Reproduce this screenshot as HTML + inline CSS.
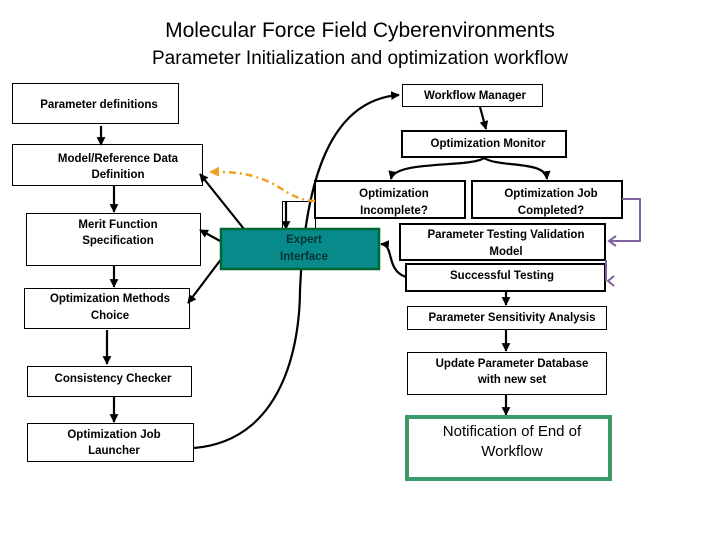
<!DOCTYPE html>
<html><head><meta charset="utf-8"><style>
html,body{margin:0;padding:0;background:#fff;}
body{width:720px;height:540px;position:relative;overflow:hidden;font-family:"Liberation Sans",sans-serif;}
</style></head><body>
<svg width="720" height="540" viewBox="0 0 720 540" xmlns="http://www.w3.org/2000/svg" style="position:absolute;left:0;top:0">
<defs>
<marker id="a" viewBox="0 0 10 10" refX="9" refY="5" markerWidth="4" markerHeight="4" orient="auto"><path d="M0,0L10,5L0,10z" fill="#000"/></marker>
<marker id="o" viewBox="0 0 10 10" refX="9" refY="5" markerWidth="4" markerHeight="4" orient="auto"><path d="M0,0L10,5L0,10z" fill="#f0a020"/></marker>
</defs>
<g font-family="Liberation Sans, sans-serif" text-anchor="middle" fill="#000">
<text x="360" y="37" font-size="21">Molecular Force Field Cyberenvironments</text>
<text x="360" y="64" font-size="19">Parameter Initialization and optimization workflow</text>
</g>
<g fill="#fff" stroke="#000" stroke-width="1">
<rect x="12.5" y="83.5" width="166" height="40"/>
<rect x="12.5" y="144.5" width="190" height="41"/>
<rect x="26.5" y="213.5" width="174" height="52"/>
<rect x="24.5" y="288.5" width="165" height="40"/>
<rect x="27.5" y="366.5" width="164" height="30"/>
<rect x="27.5" y="423.5" width="166" height="38"/>
<rect x="402.5" y="84.5" width="140" height="22"/>
<rect x="282.5" y="201.5" width="33" height="28"/>
<rect x="407.5" y="306.5" width="199" height="23"/>
<rect x="407.5" y="352.5" width="199" height="42"/>
</g>
<g fill="#fff" stroke="#000" stroke-width="2">
<rect x="402" y="131" width="164" height="26"/>
<rect x="315" y="181" width="150" height="37"/>
<rect x="472" y="181" width="150" height="37"/>
<rect x="400" y="224" width="205" height="36"/>
<rect x="406" y="264" width="199" height="27"/>
</g>
<g stroke="#000" stroke-width="2.2" fill="none" marker-end="url(#a)">
<path d="M101,126L101,145"/>
<path d="M114,186L114,212"/>
<path d="M114,266L114,287"/>
<path d="M107,330L107,364"/>
<path d="M114,397L114,422"/>
<path d="M480,107L486,129"/>
<path d="M484,158C470,168 395,160 391,179"/>
<path d="M484,158C500,168 545,160 547,179"/>
<path d="M244,229L200,174"/>
<path d="M222,242L200,230"/>
<path d="M222,258L188,303"/>
<path d="M286,201L286,229"/>
<path d="M406,277C385,270 395,245 381,244"/>
<path d="M194,448C290,440 300,330 300,290 C305,180 330,100 399,95"/>
<path d="M506,292L506,305"/>
<path d="M506,330L506,351"/>
<path d="M506,395L506,415"/>
</g>
<rect x="221" y="229" width="158" height="40" fill="#088a8a" stroke="#063" stroke-width="2.5"/>
<rect x="407" y="417" width="203" height="62" fill="#fff" stroke="#3a9a6a" stroke-width="4"/>
<path d="M315,201C280,200 280,170 210,172" stroke="#f0a020" stroke-width="2.5" stroke-dasharray="7,4,2,4" fill="none" marker-end="url(#o)"/>
<g stroke="#8060a0" stroke-width="2" fill="none">
<path d="M622,199L640,199L640,241L609,241"/>
<path d="M616,236L609,241L616,246"/>
<path d="M606,260L606,281"/>
<path d="M614,276L608,281L614,286"/>
</g>
<g font-family="Liberation Sans, sans-serif" font-size="11.5" font-weight="bold" text-anchor="middle" fill="#000">
<text x="99" y="108">Parameter definitions</text>
<text x="118" y="162">Model/Reference Data</text><text x="118" y="178">Definition</text>
<text x="118" y="228">Merit Function</text><text x="118" y="244">Specification</text>
<text x="110" y="302">Optimization Methods</text><text x="110" y="319">Choice</text>
<text x="113" y="382">Consistency Checker</text>
<text x="114" y="438">Optimization Job</text><text x="114" y="454">Launcher</text>
<text x="475" y="99">Workflow Manager</text>
<text x="488" y="147">Optimization Monitor</text>
<text x="394" y="197">Optimization</text><text x="394" y="214">Incomplete?</text>
<text x="551" y="197">Optimization  Job</text><text x="551" y="214">Completed?</text>
<text x="506" y="238">Parameter Testing Validation</text><text x="506" y="255">Model</text>
<text x="502" y="279">Successful Testing</text>
<text x="304" y="243" fill="#033">Expert</text><text x="304" y="260" fill="#033">Interface</text>
<text x="512" y="321">Parameter Sensitivity Analysis</text>
<text x="512" y="367">Update Parameter Database</text><text x="512" y="383">with new set</text>
</g>
<g font-family="Liberation Sans, sans-serif" font-size="15" text-anchor="middle" fill="#000">
<text x="512" y="436">Notification of End of</text><text x="512" y="456">Workflow</text>
</g>
</svg>
</body></html>
